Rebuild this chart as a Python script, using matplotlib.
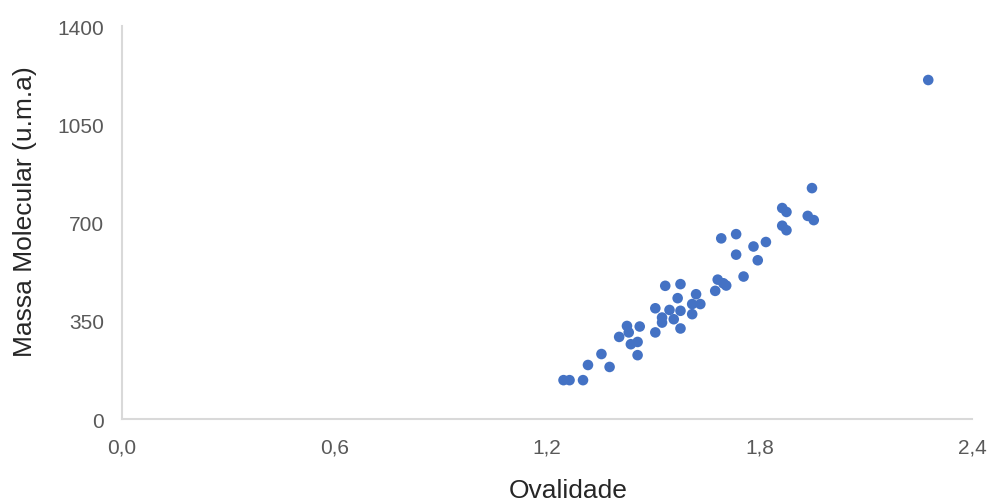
import matplotlib
matplotlib.use('Agg')
import matplotlib.pyplot as plt
from matplotlib.ticker import FuncFormatter

# Ovalidade vs massa molecular
ovalidade = [1.247, 1.264, 1.302, 1.316, 1.354, 1.377, 1.404, 1.426, 1.431, 1.462,
             1.437, 1.456, 1.456, 1.506, 1.506, 1.525, 1.525, 1.534, 1.546, 1.558,
             1.569, 1.577, 1.577, 1.577, 1.610, 1.610, 1.621, 1.633, 1.675, 1.682,
             1.698, 1.706, 1.692, 1.734, 1.734, 1.755, 1.783, 1.795, 1.818, 1.864,
             1.876, 1.864, 1.876, 1.936, 1.953, 1.948, 2.276]
massa = [139, 139, 139, 193, 232, 186, 293, 332, 309, 330,
         267, 275, 228, 309, 395, 362, 344, 475, 389, 356,
         431, 481, 386, 323, 410, 374, 445, 410, 457, 497,
         484, 476, 644, 659, 586, 508, 615, 566, 631, 752,
         738, 689, 673, 724, 709, 823, 1208]

xticks = [0.0, 0.6, 1.2, 1.8, 2.4]
yticks = [0, 350, 700, 1050, 1400]

plt.rcParams['font.family'] = ['Liberation Sans', 'DejaVu Sans']

fig = plt.figure(figsize=(9.88, 5.02), dpi=100)
ax = fig.add_axes([0.123, 0.163, 0.861, 0.783])

ax.scatter(ovalidade, massa, s=58, color='#4472C4', edgecolors='none', zorder=3)

ax.set_xlim(0, 2.4)
ax.set_ylim(0, 1400)
ax.set_xticks(xticks)
ax.set_yticks(yticks)
ax.xaxis.set_major_formatter(FuncFormatter(lambda v, p: ('%.1f' % v).replace('.', ',')))
ax.yaxis.set_major_formatter(FuncFormatter(lambda v, p: '%d' % v))

for s in ['top', 'right']:
    ax.spines[s].set_visible(False)
for s in ['left', 'bottom']:
    ax.spines[s].set_color('#D9D9D9')
    ax.spines[s].set_linewidth(1.5)

ax.tick_params(length=0, labelsize=15, labelcolor='#595959')
ax.tick_params(axis='x', pad=13)
ax.tick_params(axis='y', pad=12.5)

ax.set_xlabel('Ovalidade', fontsize=19, color='#262626')
ax.set_ylabel('Massa Molecular (u.m.a)', fontsize=19, color='#262626')
ax.xaxis.set_label_coords(0.5246, -0.15)
ax.yaxis.set_label_coords(-0.099, 0.53)

fig.savefig('out.png', dpi=100)
